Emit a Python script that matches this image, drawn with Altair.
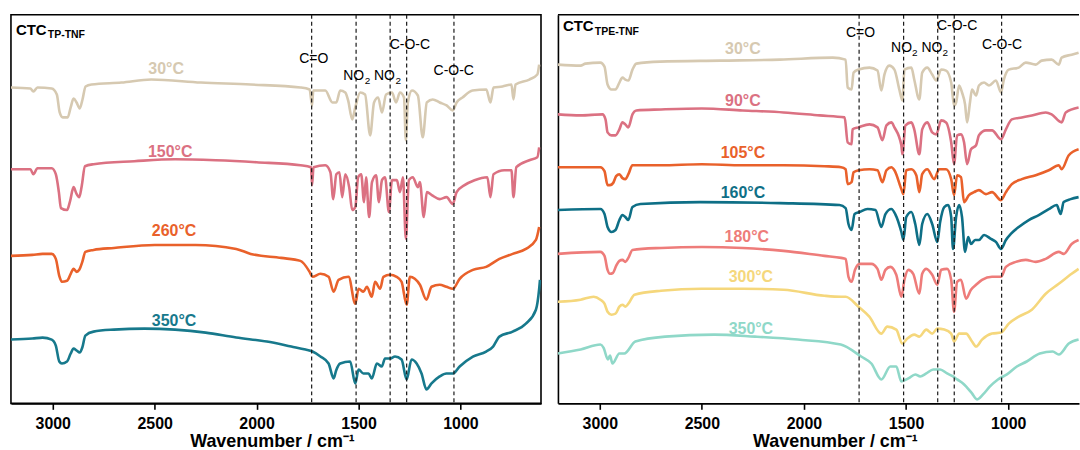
import altair as alt
import pandas as pd

FONT = "Liberation Sans"

# Wavenumber windows of the two panels (cm^-1); axes run high -> low
LEFT_RANGE = [605, 3205]
RIGHT_RANGE = [653, 3205]
TICKS = [3000, 2500, 2000, 1500, 1000]
Y_RANGE = [0, 390]

# Band positions marked by dashed guides
BANDS = [1730, 1512, 1345, 1264, 1032]

# ---- CTC TP-TNF spectra: (wavenumber, transmittance a.u. incl. stack offset)
TP_30 = [(3205, 317), (3110, 316), (3095, 313), (3075, 317), (3005, 316), (2980, 310), (2966, 292),
         (2951, 287), (2927, 287), (2912, 297), (2898, 306), (2883, 302), (2868, 296), (2854, 305),
         (2839, 318), (2810, 320), (2663, 322), (2517, 325), (2273, 322), (2029, 320), (1785, 317),
         (1740, 315), (1728, 299), (1722, 314), (1712, 314), (1663, 314), (1628, 302), (1609, 302),
         (1590, 314), (1565, 312), (1551, 304), (1531, 285), (1516, 297), (1492, 312), (1468, 310),
         (1443, 269), (1424, 302), (1404, 307), (1385, 292), (1365, 310), (1336, 312), (1316, 302),
         (1297, 312), (1277, 307), (1268, 264), (1258, 302), (1238, 314), (1209, 309), (1185, 267),
         (1165, 302), (1136, 305), (1102, 302), (1068, 299), (1038, 294), (1019, 302), (990, 307),
         (941, 314), (873, 315), (853, 302), (838, 317), (794, 318), (750, 320), (740, 305), (730, 320),
         (662, 325), (623, 330), (614, 340)]

TP_150 = [(3205, 235), (3110, 235), (3095, 230), (3075, 236), (3005, 236), (2985, 230), (2970, 212),
          (2960, 196), (2930, 194), (2915, 203), (2898, 217), (2885, 211), (2870, 207), (2858, 218),
          (2842, 238), (2800, 240), (2600, 243), (2400, 245), (2200, 244), (2000, 242), (1785, 239),
          (1733, 237), (1728, 219), (1721, 237), (1663, 239), (1638, 232), (1624, 205), (1609, 230),
          (1594, 232), (1580, 207), (1565, 230), (1546, 217), (1531, 194), (1516, 197), (1502, 227),
          (1487, 230), (1473, 202), (1463, 227), (1448, 187), (1434, 222), (1414, 229), (1400, 202),
          (1385, 224), (1370, 227), (1351, 192), (1336, 224), (1312, 224), (1297, 212), (1282, 227),
          (1268, 165), (1253, 224), (1234, 227), (1209, 217), (1199, 222), (1180, 187), (1165, 212),
          (1141, 209), (1102, 205), (1068, 207), (1038, 200), (1019, 212), (980, 219), (931, 224),
          (868, 227), (853, 207), (838, 230), (785, 234), (750, 234), (740, 207), (726, 237),
          (662, 244), (623, 247), (614, 257)]

TP_260 = [(3205, 148), (3100, 149), (3050, 150), (3005, 150), (2985, 145), (2968, 128), (2955, 122),
          (2930, 123), (2912, 130), (2898, 135), (2883, 132), (2870, 134), (2855, 142), (2840, 152),
          (2800, 154), (2700, 156), (2500, 159), (2300, 159), (2100, 155), (2029, 150), (1880, 146),
          (1785, 143), (1740, 132), (1726, 127), (1687, 130), (1647, 127), (1622, 112), (1598, 124),
          (1549, 127), (1516, 100), (1500, 115), (1476, 112), (1459, 117), (1435, 107), (1419, 122),
          (1394, 115), (1378, 127), (1346, 129), (1313, 127), (1289, 122), (1264, 99), (1248, 127),
          (1224, 125), (1199, 119), (1167, 104), (1142, 117), (1102, 119), (1069, 117), (1037, 115),
          (1004, 125), (939, 134), (874, 137), (809, 145), (744, 150), (679, 155), (630, 164), (614, 177)]

TP_350 = [(3205, 64), (3100, 65), (3050, 66), (3005, 64), (2985, 58), (2968, 42), (2955, 40), (2930, 42),
          (2912, 50), (2898, 55), (2883, 53), (2868, 51), (2855, 56), (2840, 68), (2800, 72), (2700, 74),
          (2550, 75), (2400, 74), (2250, 71), (2100, 66), (1950, 62), (1830, 57), (1760, 54), (1726, 52),
          (1687, 47), (1647, 40), (1622, 25), (1610, 33), (1590, 40), (1541, 42), (1516, 20), (1500, 34),
          (1476, 30), (1451, 30), (1435, 25), (1410, 40), (1386, 37), (1370, 45), (1346, 45), (1321, 47),
          (1289, 44), (1264, 24), (1240, 44), (1215, 40), (1191, 30), (1167, 14), (1142, 20), (1102, 27),
          (1069, 30), (1037, 30), (1004, 37), (939, 47), (874, 52), (840, 57), (809, 67), (744, 72),
          (679, 80), (630, 94), (614, 115), (610, 124)]

# ---- CTC TPE-TNF spectra
TPE_30 = [(3205, 340), (3094, 339), (3070, 341), (2997, 342), (2977, 338), (2962, 320), (2943, 315),
          (2923, 315), (2904, 322), (2889, 327), (2875, 325), (2860, 324), (2840, 335), (2821, 341),
          (2704, 343), (2411, 344), (2118, 345), (1859, 347), (1796, 345), (1786, 317), (1767, 315),
          (1757, 332), (1732, 335), (1679, 337), (1640, 334), (1621, 314), (1606, 330), (1582, 339),
          (1557, 335), (1533, 315), (1518, 304), (1508, 335), (1474, 337), (1460, 325), (1435, 305),
          (1421, 332), (1396, 337), (1372, 330), (1352, 324), (1328, 335), (1304, 334), (1279, 322),
          (1265, 299), (1255, 302), (1240, 319), (1226, 312), (1211, 300), (1201, 282), (1187, 302),
          (1177, 315), (1157, 309), (1143, 319), (1118, 322), (1094, 319), (1060, 324), (1035, 312),
          (1021, 325), (997, 335), (948, 337), (914, 342), (865, 340), (836, 344), (787, 345),
          (752, 340), (738, 347), (689, 350), (655, 352)]

TPE_90 = [(3205, 290), (3094, 289), (2987, 290), (2972, 285), (2962, 272), (2943, 269), (2923, 269),
          (2904, 275), (2889, 282), (2875, 280), (2860, 277), (2840, 290), (2821, 294), (2700, 295),
          (2500, 296), (2300, 294), (2100, 292), (1923, 289), (1801, 287), (1786, 262), (1767, 260),
          (1762, 275), (1733, 277), (1679, 280), (1640, 277), (1616, 264), (1596, 279), (1572, 282),
          (1557, 277), (1523, 259), (1518, 250), (1503, 279), (1474, 282), (1460, 275), (1435, 250),
          (1421, 275), (1396, 282), (1372, 272), (1352, 270), (1328, 284), (1304, 282), (1279, 262),
          (1265, 240), (1250, 269), (1231, 270), (1216, 262), (1201, 240), (1182, 255), (1157, 259),
          (1143, 269), (1109, 274), (1079, 274), (1035, 265), (1011, 275), (982, 285), (933, 287),
          (884, 289), (816, 292), (787, 290), (738, 282), (718, 292), (655, 297)]

TPE_105 = [(3205, 237), (2997, 237), (2977, 233), (2962, 219), (2950, 219), (2935, 221), (2920, 228),
           (2904, 230), (2889, 226), (2875, 225), (2860, 230), (2840, 239), (2700, 239), (2500, 240),
           (2300, 239), (2100, 239), (1900, 238), (1818, 237), (1796, 235), (1786, 220), (1767, 222),
           (1757, 232), (1732, 234), (1679, 235), (1640, 234), (1616, 222), (1596, 234), (1572, 237),
           (1557, 234), (1523, 215), (1513, 210), (1499, 234), (1474, 235), (1450, 229), (1435, 212),
           (1421, 230), (1396, 235), (1362, 225), (1338, 235), (1304, 235), (1279, 225), (1265, 209),
           (1250, 229), (1231, 227), (1216, 202), (1192, 209), (1167, 212), (1143, 214), (1109, 210),
           (1079, 212), (1035, 204), (1011, 212), (982, 220), (933, 225), (865, 229), (801, 234),
           (752, 239), (738, 235), (703, 249), (655, 255)]

TPE_160 = [(3205, 194), (2997, 195), (2977, 190), (2962, 177), (2943, 172), (2923, 174), (2904, 184),
           (2889, 189), (2875, 187), (2860, 184), (2840, 197), (2801, 200), (2509, 202), (2118, 201),
           (1826, 199), (1796, 196), (1782, 180), (1767, 174), (1752, 190), (1728, 192), (1689, 195),
           (1650, 194), (1621, 177), (1601, 190), (1572, 195), (1553, 190), (1523, 172), (1513, 164),
           (1499, 187), (1474, 192), (1455, 180), (1435, 159), (1421, 180), (1396, 190), (1372, 180),
           (1347, 162), (1333, 182), (1313, 197), (1294, 199), (1279, 187), (1270, 155), (1255, 187),
           (1240, 199), (1226, 187), (1211, 152), (1196, 167), (1182, 160), (1162, 164), (1143, 164),
           (1118, 169), (1084, 165), (1060, 162), (1035, 155), (1011, 164), (987, 170), (948, 177),
           (899, 184), (850, 189), (801, 195), (762, 199), (743, 190), (728, 202), (694, 205), (655, 207)]

TPE_180 = [(3205, 150), (2997, 152), (2977, 148), (2962, 134), (2950, 130), (2935, 131), (2920, 138),
           (2904, 143), (2889, 144), (2875, 142), (2860, 146), (2840, 154), (2700, 156), (2500, 157),
           (2300, 156), (2100, 153), (1900, 148), (1818, 146), (1796, 145), (1782, 127), (1767, 122),
           (1750, 134), (1728, 140), (1670, 140), (1640, 135), (1621, 124), (1601, 134), (1577, 137),
           (1548, 129), (1523, 107), (1508, 124), (1489, 134), (1465, 130), (1435, 110), (1421, 130),
           (1401, 135), (1372, 129), (1347, 119), (1328, 134), (1299, 135), (1279, 124), (1265, 92),
           (1250, 122), (1231, 124), (1206, 105), (1182, 114), (1157, 119), (1128, 124), (1079, 127),
           (1035, 127), (1011, 137), (962, 142), (914, 144), (865, 142), (816, 145), (752, 152),
           (728, 150), (689, 160), (655, 164)]

TPE_300 = [(3205, 102), (3094, 104), (3030, 107), (2997, 104), (2977, 100), (2962, 92), (2943, 89),
           (2923, 90), (2904, 97), (2889, 99), (2875, 97), (2860, 100), (2830, 109), (2700, 113),
           (2500, 115), (2300, 115), (2100, 114), (1900, 108), (1818, 107), (1796, 107), (1733, 97),
           (1680, 87), (1621, 70), (1592, 77), (1548, 74), (1518, 60), (1494, 65), (1460, 69),
           (1435, 67), (1401, 74), (1372, 70), (1347, 75), (1313, 74), (1279, 70), (1265, 62),
           (1240, 70), (1206, 70), (1177, 62), (1157, 57), (1128, 64), (1079, 70), (1035, 71),
           (997, 80), (948, 87), (884, 94), (816, 110), (752, 120), (689, 130), (655, 135)]

TPE_350 = [(3205, 50), (3094, 54), (2997, 59), (2982, 56), (2960, 44), (2950, 48), (2938, 40),
           (2904, 50), (2880, 50), (2826, 62), (2680, 67), (2440, 69), (2240, 67), (2030, 64),
           (1820, 59), (1720, 47), (1670, 40), (1621, 24), (1577, 37), (1548, 37), (1523, 22),
           (1489, 25), (1455, 29), (1431, 27), (1401, 30), (1367, 34), (1333, 34), (1299, 30),
           (1270, 27), (1250, 24), (1221, 20), (1177, 10), (1153, 4), (1123, 9), (1089, 17),
           (1050, 24), (1006, 29), (957, 37), (909, 42), (845, 50), (782, 52), (752, 49),
           (703, 60), (655, 64)]

# Line colours per temperature
BEIGE, PINK, ORANGE, TEAL = "#D6C9B1", "#DB7182", "#E9612B", "#17798C"
SALMON, YELLOW, AQUA = "#EE7C7A", "#F5D77C", "#8FD8C8"

LEFT_SERIES = [("30°C", BEIGE, TP_30), ("150°C", PINK, TP_150),
               ("260°C", ORANGE, TP_260), ("350°C", TEAL, TP_350)]
RIGHT_SERIES = [("30°C", BEIGE, TPE_30), ("90°C", PINK, TPE_90), ("105°C", ORANGE, TPE_105),
                ("160°C", "#0E6F86", TPE_160), ("180°C", SALMON, TPE_180),
                ("300°C", YELLOW, TPE_300), ("350°C", AQUA, TPE_350)]

# Temperature labels: (text, wavenumber, level)
LEFT_TEMPS = [("30°C", 2444, 336), ("150°C", 2424, 252), ("260°C", 2405, 173), ("350°C", 2405, 83)]
RIGHT_TEMPS = [("30°C", 2299, 356), ("90°C", 2299, 303), ("105°C", 2299, 251), ("160°C", 2299, 211),
               ("180°C", 2280, 167), ("300°C", 2260, 127), ("350°C", 2260, 75)]

# Band annotations: (text, wavenumber, level)
LEFT_NOTES = [("C=O", 1720, 346), ("C-O-C", 1248, 360), ("C-O-C", 1033, 334),
              ("NO", 1524, 329), ("NO", 1373, 329)]
LEFT_SUBS = [("2", 1470, 324), ("2", 1319, 324)]
RIGHT_NOTES = [("C=O", 1723, 372), ("C-O-C", 1250, 379), ("C-O-C", 1030, 360),
               ("NO", 1522, 357), ("NO", 1373, 357)]
RIGHT_SUBS = [("2", 1471, 352), ("2", 1322, 352)]


def spectra_table(series):
    rows = []
    for name, color, pts in series:
        for wn, t in pts:
            rows.append({"series": name, "color": color, "wn": wn, "T": t})
    return pd.DataFrame(rows)


def label_table(items, series=None):
    colors = {n: c for n, c, _ in series} if series else {}
    return pd.DataFrame([{"text": s, "wn": w, "T": t, "color": colors.get(s, "black")}
                         for s, w, t in items])


def panel(series, temps, notes, subs, rng, width, title_x, name, sub, name_y, sub_y, framed):
    x = alt.X("wn:Q",
              scale=alt.Scale(domain=rng, reverse=True, nice=False, zero=False),
              axis=alt.Axis(values=TICKS, format="d", grid=False, title="Wavenumber / cm⁻¹",
                            labelFont=FONT, labelFontSize=16, labelFontWeight="bold",
                            labelColor="black", labelBaseline="alphabetic", labelPadding=19,
                            labelFlush=False, labelOverlap=False,
                            tickSize=6, tickWidth=1.6, tickColor="black",
                            domainColor="black", domainWidth=1.6,
                            titleFont=FONT, titleFontSize=18, titleFontWeight="bold",
                            titleColor="black", titleBaseline="alphabetic", titleY=43,
                            titleX=title_x))
    if framed:
        y_axis = None
    else:
        y_axis = alt.Axis(labels=False, ticks=False, title=None, grid=False,
                          domainColor="black", domainWidth=1.6)
    y = alt.Y("T:Q", scale=alt.Scale(domain=Y_RANGE, nice=False, zero=False), axis=y_axis)

    lines = alt.Chart(spectra_table(series)).mark_line(
        strokeWidth=2.6, clip=True, interpolate="monotone").encode(
        x=x, y=y, color=alt.Color("color:N", scale=None), detail="series:N")

    guides = alt.Chart(pd.DataFrame({"wn": BANDS})).mark_rule(
        strokeDash=[4, 3], strokeWidth=1.2, color="#1a1a1a").encode(x=x)

    temp_text = alt.Chart(label_table(temps, series)).mark_text(
        font=FONT, fontSize=16, fontWeight="bold", baseline="middle").encode(
        x=x, y=y, text="text:N", color=alt.Color("color:N", scale=None))

    note_text = alt.Chart(label_table(notes)).mark_text(
        font=FONT, fontSize=14, color="black", baseline="middle").encode(x=x, y=y, text="text:N")

    sub_text = alt.Chart(label_table(subs)).mark_text(
        font=FONT, fontSize=10, color="black", baseline="middle", align="left").encode(
        x=x, y=y, text="text:N")

    title_main = alt.Chart(pd.DataFrame({"t": [name]})).mark_text(
        font=FONT, fontSize=15, fontWeight="bold", color="black", align="left",
        baseline="alphabetic").encode(x=alt.value(5), y=alt.value(name_y), text="t:N")
    title_sub = alt.Chart(pd.DataFrame({"t": [sub]})).mark_text(
        font=FONT, fontSize=10.5, fontWeight="bold", color="black", align="left",
        baseline="alphabetic").encode(x=alt.value(37), y=alt.value(sub_y), text="t:N")

    layers = [lines, guides, temp_text, note_text, sub_text, title_main, title_sub]
    if framed:
        view = alt.ViewBackground(stroke="black", strokeWidth=1.6)
    else:
        top = alt.Chart(pd.DataFrame({"t": [0]})).mark_rule(color="black", strokeWidth=1.6).encode(
            x=alt.value(0), x2=alt.value(width), y=alt.value(0))
        layers.append(top)
        view = alt.ViewBackground(stroke=None)
    return alt.layer(*layers).properties(width=width, height=390, view=view)


left = panel(LEFT_SERIES, LEFT_TEMPS, LEFT_NOTES, LEFT_SUBS, LEFT_RANGE, 532, 262,
             "CTC", "TP-TNF", 20, 23, True)
right = panel(RIGHT_SERIES, RIGHT_TEMPS, RIGHT_NOTES, RIGHT_SUBS, RIGHT_RANGE, 523, 278,
              "CTC", "TPE-TNF", 16, 20, False)

chart = alt.hconcat(left, right, spacing=15).properties(
    padding={"left": 10, "top": 12, "right": 0, "bottom": 0},
    background="white",
).configure_view(stroke=None)

chart.save("out.html", embed_options={"renderer": "svg", "actions": False})
